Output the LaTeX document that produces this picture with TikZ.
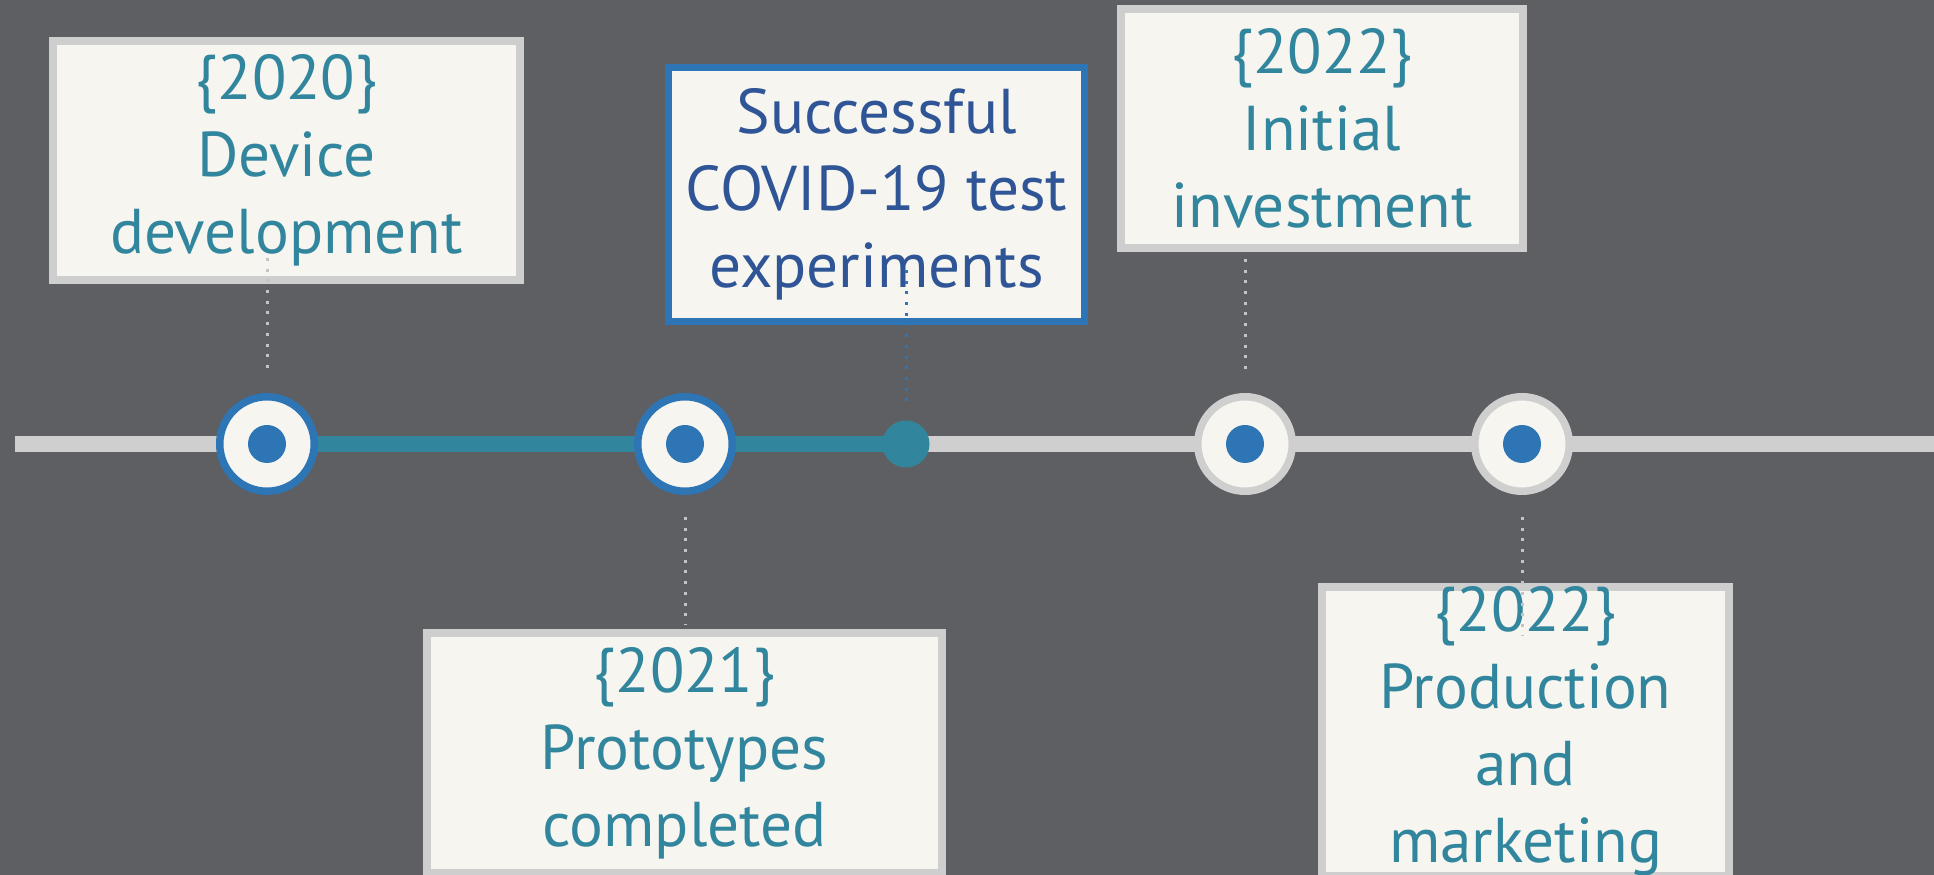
\documentclass[tikz,border=0pt]{standalone}
\usepackage{fontspec}
\setmainfont{PT Sans}
\definecolor{bgdark}{HTML}{5E5F62}
\definecolor{linegray}{HTML}{D0CFD0}
\definecolor{boxgray}{HTML}{CFCECF}
\definecolor{paper}{HTML}{F6F5F0}
\definecolor{tealline}{HTML}{31869E}
\definecolor{ringblue}{HTML}{2E75B6}
\definecolor{navytext}{HTML}{2F5597}
\definecolor{dotgray}{HTML}{C4C4C4}

\begin{document}
\begin{tikzpicture}[
   evbox/.style={draw=boxgray, fill=paper, line width=0.08cm, inner sep=0pt,
     align=center, text=tealline, font=\fontsize{18}{21.9}\selectfont},
   nowbox/.style={evbox, draw=ringblue, line width=0.07cm, text=navytext},
   done/.style={circle, draw=ringblue, fill=paper, line width=0.075cm,
     minimum size=0.945cm, inner sep=0pt},
   todo/.style={done, draw=linegray},
   core/.style={circle, fill=ringblue, minimum size=0.38cm, inner sep=0pt},
   nowdot/.style={circle, fill=tealline, minimum size=0.47cm, inner sep=0pt},
   guide/.style={draw=dotgray, line width=0.03cm, dash pattern=on 0.03cm off 0.077cm},
   nowguide/.style={guide, draw=ringblue}
  ]
   \useasboundingbox[fill=bgdark] (0,0) rectangle (19.34,8.75);

   \coordinate (tstart) at (0.15,4.31);
   \coordinate (tend)   at (19.34,4.31);
   \coordinate (t1) at ( 2.67,4.31);
   \coordinate (t2) at ( 6.85,4.31);
   \coordinate (t0) at ( 9.06,4.31);
   \coordinate (t3) at (12.45,4.31);
   \coordinate (t4) at (15.22,4.31);
   \draw[linegray, line width=0.16cm] (tstart) -- (tend);
   \draw[tealline, line width=0.157cm] (t1) -- (t0);

   \node[done]   (m1)  at (t1) {};
   \node[done]   (m2)  at (t2) {};
   \node[nowdot] (now) at (t0) {};
   \node[todo]   (m3)  at (t3) {};
   \node[todo]   (m4)  at (t4) {};
   \node[core] (m1c) at (m1) {};
   \node[core] (m2c) at (m2) {};
   \node[core] (m3c) at (m3) {};
   \node[core] (m4c) at (m4) {};

   \node[evbox, minimum width=4.67cm, minimum height=2.39cm] (b2020) at ( 2.865,7.145)
     {\{2020\}\\Device\\development};
   \node[nowbox, minimum width=4.16cm, minimum height=2.54cm] (bcovid) at ( 8.765,6.805)
     {Successful\\COVID-19 test\\experiments};
   \node[evbox, minimum width=4.02cm, minimum height=2.39cm] (b2022a) at (13.22,7.465)
     {\{2022\}\\Initial\\investment};
   \node[evbox, minimum width=5.15cm, minimum height=2.40cm] (b2021) at ( 6.845,1.22)
     {\{2021\}\\Prototypes\\completed};
   \node[evbox, minimum width=4.07cm, minimum height=2.89cm] (b2022b) at (15.255,1.435)
     {\{2022\}\\Production\\and\\marketing};

   \draw[guide, shorten <=-0.26cm, shorten >=0.18cm] (m1 |- b2020.south) -- (m1.north);
   \draw[nowguide, shorten <=-0.55cm, shorten >=0.11cm] (now |- bcovid.south) -- (now.north);
   \draw[guide, shorten <=0.07cm, shorten >=0.18cm] (m3 |- b2022a.south) -- (m3.north);
   \draw[guide, shorten <=0.22cm, shorten >=0.04cm] (m2.south) -- (m2 |- b2021.north);
   \draw[guide, shorten <=0.22cm, shorten >=-0.52cm] (m4.south) -- (m4 |- b2022b.north);
  \end{tikzpicture}
\end{document}
